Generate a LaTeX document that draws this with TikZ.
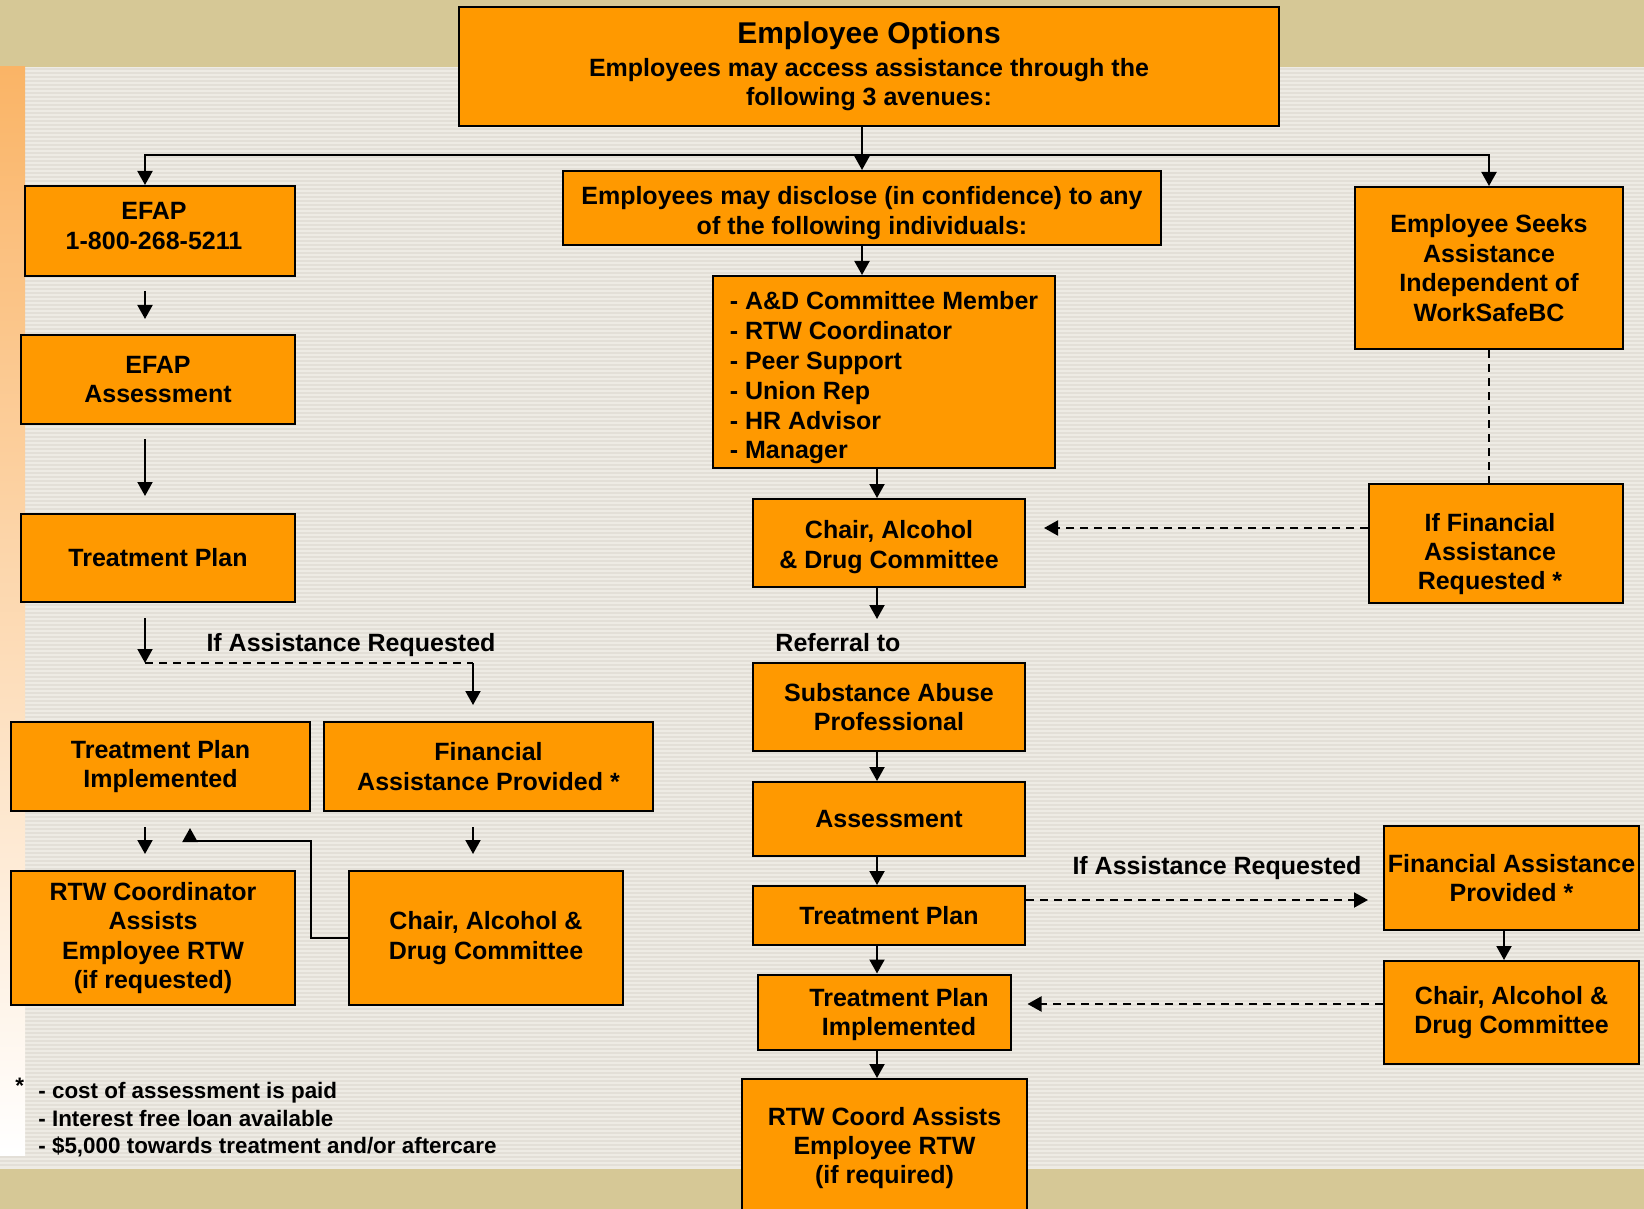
\documentclass[tikz,border=0pt]{standalone}
\usepackage{fontspec}
\setmainfont{Liberation Sans}
\usetikzlibrary{arrows.meta, positioning, calc}

\definecolor{boxorange}{HTML}{FF9900}
\definecolor{bandtan}{HTML}{D6C896}
\definecolor{paper}{HTML}{EEEBE4}
\definecolor{stripe}{HTML}{E3DFD7}
\definecolor{stripleft}{HTML}{FAB466}

\newcommand{\boxfont}{\fontsize{12.5}{14.7}\selectfont\bfseries}
\newcommand{\notefont}{\fontsize{11.2}{13.75}\selectfont\bfseries}

\begin{document}
\begin{tikzpicture}[x=0.5pt, y=-0.5pt,
  box/.style={draw, line width=1pt, fill=boxorange, align=center, inner sep=1pt, font=\boxfont},
  lbl/.style={font=\boxfont, inner sep=0pt, align=center},
  arr/.style={line width=1pt, -{Triangle[width=7.5pt,length=7pt]}},
  link/.style={line width=1pt},
  dlink/.style={line width=1pt, dash pattern=on 4pt off 3pt},
  darr/.style={dlink, -{Triangle[width=7.5pt,length=7pt]}},
]
\useasboundingbox (0,0) rectangle (1644,1209);
\fill[paper] (0,0) rectangle (1644,1209);
\foreach \yy in {69,73,...,1167} \draw[stripe, line width=0.9pt] (0,\yy) -- (1644,\yy);
\fill[bandtan] (0,0) rectangle (1644,67);
\fill[bandtan] (0,1169) rectangle (1644,1209);
\shade[top color=stripleft, bottom color=white] (0,67) rectangle (25,1155);

\node[box, minimum width=410pt, minimum height=59.5pt] (opts) at (869,66.5)
  {{\fontsize{15}{18}\selectfont Employee Options}\\[1.5pt]
   Employees may access assistance through the\\ following 3 avenues:};

\node[box, minimum width=135pt, minimum height=45pt] (efap) at (160,231) {};
\node[lbl] (efapt) at ($(efap)+(-6,-5)$) {EFAP\\1-800-268-5211};
\node[box, minimum width=299pt, minimum height=37pt] (disc) at (862,208) {};
\node[lbl] (disct) at ($(disc)+(0,5)$) {Employees may disclose (in confidence) to any\\of the following individuals:};
\node[box, minimum width=134pt, minimum height=81pt] (seeks) at (1489,268)
  {Employee Seeks\\Assistance\\Independent of\\WorkSafeBC};

\node[box, minimum width=137pt, minimum height=44.5pt] (efasm) at (158,379.5) {EFAP\\Assessment};
\node[box, minimum width=171pt, minimum height=96pt] (list) at (884,372) {};
\node[lbl, align=left, font=\fontsize{12.5}{14.9}\selectfont\bfseries] (listt) at ($(list)+(0,6)$)
  {- A\&D Committee Member\\- RTW Coordinator\\- Peer Support\\- Union Rep\\- HR Advisor\\- Manager};

\node[box, minimum width=137pt, minimum height=44pt] (tpl) at (158,558) {Treatment Plan};
\node[box, minimum width=136pt, minimum height=44pt] (chairc) at (889,543) {};
\node[lbl] (chairct) at ($(chairc)+(0,4)$) {Chair, Alcohol\\\& Drug Committee};
\node[box, minimum width=127pt, minimum height=59.5pt] (iffin) at (1496,543) {};
\node[lbl] (iffint) at ($(iffin)+(-6,11)$) {If Financial\\Assistance\\Requested *};

\node[lbl] (lreq) at (351,645) {If Assistance Requested};
\node[lbl] (refer) at (838,643) {Referral to};

\node[box, minimum width=136pt, minimum height=44pt] (sa) at (889,707) {Substance Abuse\\Professional};
\node[box, minimum width=149.5pt, minimum height=44.5pt] (tpil) at (160.5,766.5) {Treatment Plan\\Implemented};
\node[box, minimum width=164.5pt, minimum height=44.5pt] (fapl) at (488.5,766.5) {Financial\\Assistance Provided *};
\node[box, minimum width=136pt, minimum height=37pt] (asmt) at (889,819) {Assessment};

\node[lbl] (rreq) at (1217,868) {If Assistance Requested};
\node[box, minimum width=127.5pt, minimum height=52pt] (fapr) at (1511.5,878) {Financial Assistance\\Provided *};
\node[box, minimum width=136pt, minimum height=29.5pt] (tpc) at (889,915.5) {Treatment Plan};

\node[box, minimum width=142pt, minimum height=67pt] (rtwl) at (153,938)
  {RTW Coordinator\\Assists\\Employee RTW\\(if requested)};
\node[box, minimum width=137pt, minimum height=67pt] (chairl) at (486,938) {Chair, Alcohol \&\\Drug Committee};

\node[box, minimum width=126.5pt, minimum height=37.5pt] (tpic) at (884,1012) {};
\node[lbl] (tpict) at ($(tpic)+(15,2.5)$) {Treatment Plan\\Implemented};
\node[box, minimum width=127.5pt, minimum height=51.5pt] (chairr) at (1511.5,1012.5) {Chair, Alcohol \&\\Drug Committee};
\node[box, minimum width=142.5pt, minimum height=69pt] (rtwc) at (884.5,1148)
  {RTW Coord Assists\\Employee RTW\\(if required)};

\node[inner sep=0pt, anchor=west, font=\notefont] (star) at (15,1086) {*};
\node[anchor=west, align=left, inner sep=0pt, font=\notefont] (notes) at (38,1120)
  {- cost of assessment is paid\\- Interest free loan available\\- \$5,000 towards treatment and/or aftercare};

\coordinate (bus) at (0,155);
\coordinate (lcol) at (145,0);
\coordinate (rcol) at (473,0);
\coordinate (ccol) at (877,0);
\coordinate (back) at (190,828);

\draw[arr] (disc.north |- opts.south) -- (disc.north);
\draw[arr] (disc.north |- bus) -| ($(efap.north)+(-15,0)$);
\draw[arr] (disc.north |- bus) -| (seeks.north);

\draw[arr] ($(efap.south -| lcol)+(0,14)$) -- ($(efasm.north -| lcol)+(0,-15)$);
\draw[arr] ($(efasm.south -| lcol)+(0,14)$) -- ($(tpl.north -| lcol)+(0,-17)$);
\coordinate (lsplit) at ($(tpl.south -| lcol)+(0,60)$);
\draw[arr] ($(tpl.south -| lcol)+(0,15)$) -- (lsplit);
\draw[dlink] (lsplit) -- (lsplit -| rcol);
\draw[arr] (lsplit -| rcol) -- ($(fapl.north -| rcol)+(0,-16)$);
\draw[arr] ($(tpil.south -| lcol)+(0,15)$) -- ($(rtwl.north -| lcol)+(0,-16)$);
\draw[arr] ($(fapl.south -| rcol)+(0,15)$) -- ($(chairl.north -| rcol)+(0,-16)$);
\draw[arr] (chairl.west) -- ++(-37,0) |- ($(back)+(0,13)$) -- (back);

\draw[arr] (disc.south) -- (list.north -| disc.south);
\draw[arr] (list.south -| ccol) -- (chairc.north -| ccol);
\draw[arr] (chairc.south -| ccol) -- ($(chairc.south -| ccol)+(0,31)$);
\draw[arr] (sa.south -| ccol) -- (asmt.north -| ccol);
\draw[arr] (asmt.south -| ccol) -- (tpc.north -| ccol);
\draw[arr] (tpc.south -| ccol) -- (tpic.north -| ccol);
\draw[arr] (tpic.south -| ccol) -- (rtwc.north -| ccol);

\draw[dlink] (seeks.south) -- (iffin.north -| seeks.south);
\draw[darr] ($(iffin.west)+(0,-15)$) -- ($(chairc.east |- iffin.west)+(18,-15)$);
\draw[darr] ($(tpc.east)+(0,-15.5)$) -- ($(fapr.west |- tpc.east)+(-15,-15.5)$);
\draw[arr] ($(fapr.south)+(-7.5,0)$) -- ($(chairr.north)+(-7.5,0)$);
\draw[darr] ($(chairr.west)+(0,-8.5)$) -- ($(tpic.east |- chairr.west)+(16,-8.5)$);
\end{tikzpicture}
\end{document}
